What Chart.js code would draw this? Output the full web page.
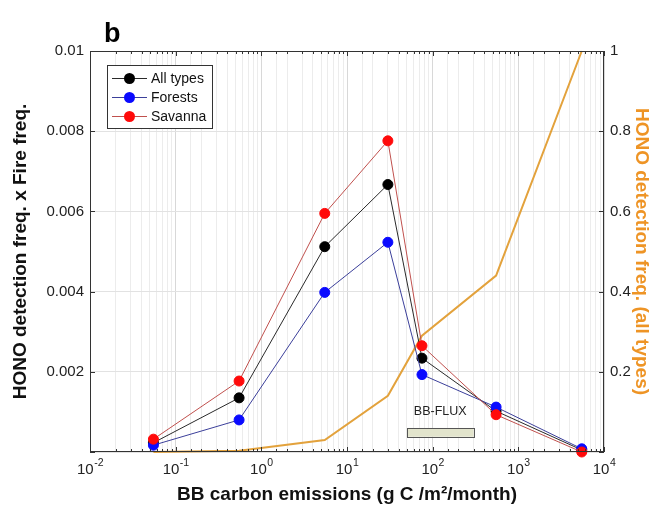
<!DOCTYPE html>
<html>
<head>
<meta charset="utf-8">
<script src="https://cdn.jsdelivr.net/npm/chart.js@4"></script>
<style>
  html, body { margin: 0; padding: 0; background: #fff; }
  canvas { display: block; }
</style>
</head>
<body>
<canvas id="grafico" width="653" height="506"></canvas>
<script>
// emisiones de carbono (g C /m2/mes), eje x logaritmico
const emisiones = [0.055, 0.55, 5.5, 30, 75, 550, 5500];
const todos = [0.00023, 0.00135, 0.00512, 0.00667, 0.00234, 0.00102, 0.00005];
const bosques = [0.00017, 0.0008, 0.00398, 0.00523, 0.00193, 0.00112, 0.00008];
const sabana = [0.00032, 0.00177, 0.00595, 0.00776, 0.00265, 0.00093, 0.0];
const deteccion = [0.0, 0.003, 0.03, 0.14, 0.29, 0.44, 1.0];
const etiquetas = ["All types", "Forests", "Savanna"];
const decadas = [0.01, 0.1, 1, 10, 100, 1000, 10000];
// rango de BB-FLUX en x y altura de la caja en el eje derecho
const bbFlux = [50, 300];
const bbFluxY = [0.038, 0.06];

const naranja = '#E3A23C';
const fuente = "'Liberation Sans', Arial, sans-serif";

const puntos = (ys) => emisiones.map((x, i) => ({x: x, y: ys[i]}));

// caja, marcas internas, etiquetas 10^n, leyenda y BB-FLUX
const extras = {
  id: 'extras',
  afterDatasetsDraw(chart) {
    const ctx = chart.ctx;
    const {left, right, top, bottom} = chart.chartArea;
    const sx = chart.scales.x, sy = chart.scales.y, sy2 = chart.scales.y2;
    ctx.save();

    // BB-FLUX
    const bx0 = sx.getPixelForValue(bbFlux[0]), bx1 = sx.getPixelForValue(bbFlux[1]);
    const by0 = sy2.getPixelForValue(bbFluxY[1]), by1 = sy2.getPixelForValue(bbFluxY[0]);
    ctx.fillStyle = '#e2e4cc';
    ctx.strokeStyle = '#555';
    ctx.lineWidth = 1;
    ctx.fillRect(bx0, by0, bx1 - bx0, by1 - by0);
    ctx.strokeRect(Math.round(bx0) + 0.5, Math.round(by0) + 0.5, Math.round(bx1 - bx0), Math.round(by1 - by0));
    ctx.fillStyle = '#222';
    ctx.font = '12.5px ' + fuente;
    ctx.textAlign = 'center';
    ctx.textBaseline = 'middle';
    ctx.fillText('BB-FLUX', (bx0 + bx1) / 2, by0 - 16);

    // marco
    ctx.strokeStyle = '#333';
    ctx.strokeRect(left + 0.5, top + 0.5, right - left - 1, bottom - top - 1);

    // marcas hacia adentro
    ctx.beginPath();
    sx.ticks.forEach(t => {
      const px = Math.round(sx.getPixelForValue(t.value)) + 0.5;
      const largo = decadas.includes(t.value) ? 5 : 3;
      ctx.moveTo(px, bottom); ctx.lineTo(px, bottom - largo);
      ctx.moveTo(px, top); ctx.lineTo(px, top + largo);
    });
    sy.ticks.forEach(t => {
      const py = Math.round(sy.getPixelForValue(t.value)) + 0.5;
      ctx.moveTo(left, py); ctx.lineTo(left + 5, py);
    });
    sy2.ticks.forEach(t => {
      const py = Math.round(sy2.getPixelForValue(t.value)) + 0.5;
      ctx.moveTo(right, py); ctx.lineTo(right - 5, py);
    });
    ctx.stroke();

    // etiquetas del eje x con exponente
    ctx.fillStyle = '#222';
    ctx.textBaseline = 'alphabetic';
    ctx.textAlign = 'left';
    decadas.forEach(d => {
      const px = sx.getPixelForValue(d);
      const exp = String(Math.round(Math.log10(d)));
      ctx.font = '15px ' + fuente;
      const w1 = ctx.measureText('10').width;
      ctx.font = '10.5px ' + fuente;
      const w2 = ctx.measureText(exp).width;
      const x0 = px - (w1 + w2) / 2;
      ctx.font = '15px ' + fuente;
      ctx.fillText('10', x0, 474);
      ctx.font = '10.5px ' + fuente;
      ctx.fillText(exp, x0 + w1 + 0.5, 466);
    });

    // leyenda
    const lx = 107, ly = 65;
    ctx.fillStyle = '#fff';
    ctx.fillRect(lx, ly, 105, 63);
    ctx.strokeStyle = '#333';
    ctx.strokeRect(lx + 0.5, ly + 0.5, 105, 63);
    etiquetas.forEach((txt, i) => {
      const ds = chart.data.datasets[i];
      const y = ly + 13.5 + i * 19;
      ctx.strokeStyle = ds.borderColor;
      ctx.lineWidth = 1;
      ctx.beginPath();
      ctx.moveTo(112, y); ctx.lineTo(147, y);
      ctx.stroke();
      ctx.fillStyle = ds.pointBackgroundColor;
      ctx.beginPath();
      ctx.arc(129.5, y, 5.5, 0, Math.PI * 2);
      ctx.fill();
      ctx.fillStyle = '#111';
      ctx.font = '14px ' + fuente;
      ctx.textBaseline = 'middle';
      ctx.fillText(txt, 151, y + 0.5);
    });

    // letra del panel
    ctx.fillStyle = '#000';
    ctx.font = 'bold 27px ' + fuente;
    ctx.textBaseline = 'alphabetic';
    ctx.fillText('b', 104, 42);
    ctx.restore();
  }
};

const serie = (label, data, linea, punto, orden) => ({
  label: label,
  data: puntos(data),
  yAxisID: 'y',
  borderColor: linea,
  borderWidth: 1,
  pointBackgroundColor: punto,
  pointBorderColor: punto,
  pointRadius: 5,
  pointBorderWidth: 1,
  order: orden,
  clip: false
});

const grafico = new Chart(document.querySelector('#grafico'), {
  type: 'line',
  data: {
    datasets: [
      serie(etiquetas[0], todos, '#2a2a2a', '#000000', 3),
      serie(etiquetas[1], bosques, '#3b3f9a', '#0a0aff', 2),
      serie(etiquetas[2], sabana, '#c0504d', '#ff0a0a', 1),
      {
        label: 'HONO detection freq.',
        data: puntos(deteccion),
        yAxisID: 'y2',
        borderColor: naranja,
        borderWidth: 2,
        pointRadius: 0,
        order: 4,
        clip: false
      }
    ]
  },
  options: {
    responsive: false,
    animation: false,
    layout: {padding: {top: 51, left: 0, right: 0, bottom: 0}},
    plugins: {legend: {display: false}, tooltip: {enabled: false}},
    scales: {
      x: {
        type: 'logarithmic',
        min: 0.01,
        max: 10000,
        afterFit: (s) => { s.height = 54; },
        border: {display: false},
        grid: {
          drawTicks: false,
          color: (c) => decadas.includes(c.tick.value) ? '#d8d8d8' : '#ececec'
        },
        ticks: {display: false, autoSkip: false},
        title: {
          display: true,
          text: 'BB carbon emissions (g C /m\u00b2/month)',
          color: '#111',
          font: {family: fuente, size: 19, weight: 'bold'},
          padding: {top: 0, bottom: 0}
        }
      },
      y: {
        position: 'left',
        min: 0,
        max: 0.01,
        afterFit: (s) => { s.width = 90; },
        border: {display: false},
        grid: {drawTicks: false, color: '#e2e2e2'},
        ticks: {
          stepSize: 0.002,
          padding: 6,
          color: '#222',
          font: {family: fuente, size: 15},
          callback: (v) => v === 0 ? '' : String(Number(v.toFixed(3)))
        },
        title: {
          display: true,
          text: 'HONO detection freq. x Fire freq.',
          color: '#111',
          font: {family: fuente, size: 19, weight: 'bold'},
          padding: {top: 9, bottom: 0}
        }
      },
      y2: {
        position: 'right',
        min: 0,
        max: 1,
        afterFit: (s) => { s.width = 49; },
        border: {display: false},
        grid: {display: false, drawTicks: false},
        ticks: {
          stepSize: 0.2,
          padding: 6,
          color: '#222',
          font: {family: fuente, size: 15},
          callback: (v) => v === 0 ? '' : String(Number(v.toFixed(1)))
        },
        title: {
          display: true,
          text: 'HONO detection freq. (all types)',
          color: '#EE9425',
          font: {family: fuente, size: 19, weight: 'bold'},
          padding: {top: 0, bottom: 0}
        }
      }
    }
  },
  plugins: [extras]
});
</script>
</body>
</html>
